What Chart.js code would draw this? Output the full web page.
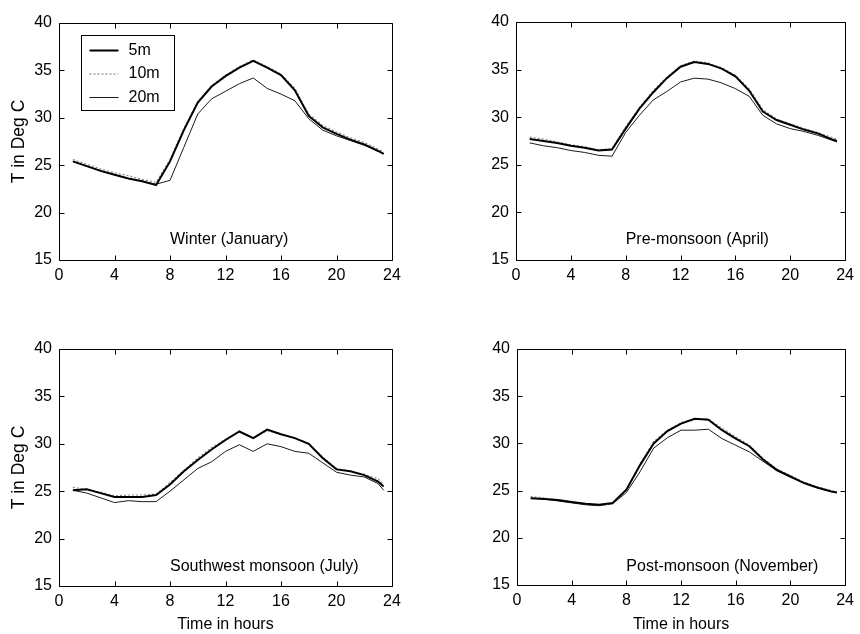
<!DOCTYPE html>
<html>
<head>
<meta charset="utf-8">
<title>Diurnal temperature</title>
<script src="https://cdn.jsdelivr.net/npm/chart.js@4.4.1/dist/chart.umd.min.js"></script>
<style>
  body { margin: 0; background: #fff; }
  #wrap { position: relative; width: 860px; height: 634px; }
  #wrap canvas { position: absolute; }
</style>
</head>
<body>
<div id="wrap">
  <canvas id="winter" width="430" height="317" style="left:0;top:0"></canvas>
  <canvas id="premonsoon" width="430" height="317" style="left:430px;top:0"></canvas>
  <canvas id="swmonsoon" width="430" height="317" style="left:0;top:317px"></canvas>
  <canvas id="postmonsoon" width="430" height="317" style="left:430px;top:317px"></canvas>
</div>
<script>
// hour of day for each reading
const hours = [1, 2, 3, 4, 5, 6, 7, 8, 9, 10, 11, 12, 13, 14, 15, 16, 17, 18, 19, 20, 21, 22, 23, 23.4];
const xTicks = [0, 4, 8, 12, 16, 20, 24];
const yTicks = [15, 20, 25, 30, 35, 40];
const levels = ['5m', '10m', '20m'];

// Winter (January)
const winter5  = [25.4, 24.9, 24.4, 24.0, 23.6, 23.3, 22.9, 25.4, 28.7, 31.6, 33.3, 34.4, 35.3, 36.0, 35.3, 34.5, 32.9, 30.2, 29.0, 28.3, 27.7, 27.2, 26.5, 26.2];
const winter10 = [25.6, 25.1, 24.6, 24.2, 23.9, 23.5, 23.2, 25.6, 28.9, 31.7, 33.4, 34.5, 35.4, 36.1, 35.4, 34.6, 33.1, 30.4, 29.2, 28.5, 27.9, 27.4, 26.7, 26.4];
const winter20 = [25.4, 24.9, 24.4, 24.0, 23.6, 23.3, 23.0, 23.4, 26.9, 30.4, 32.0, 32.8, 33.6, 34.2, 33.1, 32.5, 31.8, 29.9, 28.7, 28.1, 27.6, 27.1, 26.5, 26.2];

// Pre-monsoon (April)
const april5  = [27.7, 27.5, 27.3, 27.0, 26.8, 26.5, 26.6, 28.8, 30.9, 32.6, 34.1, 35.3, 35.8, 35.6, 35.1, 34.3, 32.8, 30.6, 29.7, 29.2, 28.7, 28.3, 27.7, 27.5];
const april10 = [27.9, 27.7, 27.4, 27.1, 26.9, 26.6, 26.7, 29.0, 31.0, 32.8, 34.2, 35.4, 35.9, 35.7, 35.2, 34.4, 33.0, 30.8, 29.8, 29.3, 28.8, 28.4, 27.9, 27.7];
const april20 = [27.3, 27.0, 26.8, 26.5, 26.3, 26.0, 25.9, 28.4, 30.2, 31.8, 32.7, 33.7, 34.1, 34.0, 33.6, 33.0, 32.2, 30.2, 29.3, 28.8, 28.5, 28.1, 27.6, 27.4];

// Southwest monsoon (July)
const july5  = [25.1, 25.2, 24.8, 24.4, 24.4, 24.4, 24.6, 25.7, 27.1, 28.3, 29.4, 30.4, 31.3, 30.6, 31.5, 31.0, 30.6, 30.0, 28.5, 27.3, 27.1, 26.7, 26.0, 25.5];
const july10 = [25.4, 25.2, 24.9, 24.5, 24.6, 24.6, 24.7, 25.9, 27.2, 28.5, 29.6, 30.5, 31.3, 30.6, 31.4, 31.0, 30.6, 30.0, 28.6, 27.4, 27.1, 26.8, 26.3, 25.7];
const july20 = [25.1, 24.8, 24.3, 23.8, 24.0, 23.9, 23.9, 25.0, 26.2, 27.4, 28.1, 29.2, 29.9, 29.2, 30.0, 29.7, 29.2, 29.0, 28.0, 27.0, 26.7, 26.5, 25.8, 25.1];

// Post-monsoon (November)
const nov5  = [24.2, 24.1, 24.0, 23.8, 23.6, 23.5, 23.7, 25.1, 27.7, 30.0, 31.3, 32.1, 32.6, 32.5, 31.4, 30.5, 29.7, 28.3, 27.2, 26.5, 25.8, 25.3, 24.9, 24.8];
const nov10 = [24.4, 24.2, 24.0, 23.8, 23.6, 23.5, 23.6, 25.0, 27.8, 30.2, 31.4, 32.2, 32.6, 32.6, 31.6, 30.7, 29.8, 28.4, 27.3, 26.6, 25.9, 25.4, 25.0, 24.8];
const nov20 = [24.2, 24.1, 23.9, 23.7, 23.5, 23.4, 23.6, 24.8, 27.0, 29.5, 30.6, 31.4, 31.4, 31.5, 30.5, 29.8, 29.1, 28.1, 27.1, 26.4, 25.8, 25.3, 24.9, 24.8];

const FONT = '"Liberation Sans", Arial, sans-serif';
const TXT = 16;

const lineStyles = [
  { borderColor: '#000', borderWidth: 2 },
  { borderColor: '#8a8a8a', borderWidth: 1.2, borderDash: [2, 2] },
  { borderColor: '#1a1a1a', borderWidth: 1 }
];

// box, inward ticks on all four sides, in-plot caption and legend
const matlabAxes = {
  id: 'matlabAxes',
  afterDatasetsDraw(chart, args, opts) {
    const { ctx, chartArea: a, scales: { x, y } } = chart;
    const L = Math.round(a.left) + 0.5, R = Math.round(a.right) + 0.5;
    const T = Math.round(a.top) + 0.5, B = Math.round(a.bottom) + 0.5;
    ctx.save();
    ctx.strokeStyle = '#000';
    ctx.lineWidth = 1;
    ctx.beginPath();
    ctx.rect(L, T, R - L, B - T);
    x.ticks.forEach(t => {
      const px = Math.round(x.getPixelForValue(t.value)) + 0.5;
      ctx.moveTo(px, B); ctx.lineTo(px, B - opts.tickLen);
      ctx.moveTo(px, T); ctx.lineTo(px, T + opts.tickLen);
    });
    y.ticks.forEach(t => {
      const py = Math.round(y.getPixelForValue(t.value)) + 0.5;
      ctx.moveTo(L, py); ctx.lineTo(L + opts.tickLen, py);
      ctx.moveTo(R, py); ctx.lineTo(R - opts.tickLen, py);
    });
    ctx.stroke();

    ctx.fillStyle = '#000';
    ctx.font = TXT + 'px ' + FONT;
    if (opts.note) {
      ctx.textAlign = 'left';
      ctx.textBaseline = 'middle';
      ctx.fillText(opts.note.text, x.getPixelForValue(opts.note.x), y.getPixelForValue(opts.note.y));
    }

    if (opts.legend) {
      const lg = opts.legend;
      const bx = Math.round(a.left + lg.dx) + 0.5, by = Math.round(a.top + lg.dy) + 0.5;
      ctx.fillStyle = '#fff';
      ctx.fillRect(bx, by, lg.w, lg.h);
      ctx.strokeStyle = '#000';
      ctx.setLineDash([]);
      ctx.lineWidth = 1;
      ctx.strokeRect(bx, by, lg.w, lg.h);
      chart.data.datasets.forEach((ds, i) => {
        const ry = by + lg.firstRow + i * lg.rowGap;
        ctx.beginPath();
        ctx.strokeStyle = ds.borderColor;
        ctx.lineWidth = ds.borderWidth;
        ctx.setLineDash(ds.borderDash || []);
        ctx.moveTo(bx + 8, ry);
        ctx.lineTo(bx + 37, ry);
        ctx.stroke();
        ctx.setLineDash([]);
        ctx.fillStyle = '#000';
        ctx.textAlign = 'left';
        ctx.textBaseline = 'middle';
        ctx.fillText(ds.label, bx + 47, ry);
      });
    }
    ctx.restore();
  }
};

function makePanel(id, series, area, note, opts) {
  const W = 430, H = 317;
  const datasets = series.map((vals, i) => Object.assign({
    label: levels[i],
    data: hours.map((h, k) => ({ x: h, y: vals[k] })),
    pointRadius: 0,
    tension: 0,
    fill: false
  }, lineStyles[i]));

  new Chart(document.getElementById(id), {
    type: 'line',
    data: { datasets },
    plugins: [matlabAxes],
    options: {
      responsive: false,
      animation: false,
      events: [],
      layout: { padding: { left: 0, top: area.t, right: W - area.r, bottom: 0 } },
      plugins: {
        legend: { display: false },
        tooltip: { enabled: false },
        matlabAxes: { tickLen: 5, note: note, legend: opts.legend || null }
      },
      scales: {
        x: {
          type: 'linear',
          min: 0, max: 24,
          afterBuildTicks: s => { s.ticks = xTicks.map(v => ({ value: v })); },
          afterFit: s => { s.height = H - area.b; },
          grid: { display: false, drawTicks: false },
          border: { display: false },
          ticks: { color: '#000', padding: 6, maxRotation: 0, autoSkip: false, font: { family: FONT, size: TXT } },
          title: {
            display: !!opts.xTitle,
            text: 'Time in hours',
            color: '#000',
            font: { family: FONT, size: TXT, lineHeight: 1 },
            padding: { top: 0, bottom: 1 }
          }
        },
        y: {
          type: 'linear',
          min: 15, max: 40,
          afterBuildTicks: s => { s.ticks = yTicks.map(v => ({ value: v })); },
          afterFit: s => { s.width = area.l; },
          grid: { display: false, drawTicks: false },
          border: { display: false },
          ticks: { color: '#000', padding: 7, font: { family: FONT, size: TXT } },
          title: {
            display: !!opts.yTitle,
            text: 'T in Deg C',
            color: '#000',
            font: { family: FONT, size: 17.5, lineHeight: 1 },
            padding: { top: 10, bottom: 0 }
          }
        }
      }
    }
  });
}

makePanel('winter', [winter5, winter10, winter20],
  { l: 59, r: 392, t: 23, b: 260 },
  { text: 'Winter (January)', x: 8, y: 17.1 },
  { yTitle: true, legend: { dx: 22, dy: 12, w: 93, h: 75, firstRow: 15, rowGap: 23.5 } });

makePanel('premonsoon', [april5, april10, april20],
  { l: 86, r: 421, t: 22, b: 260 },
  { text: 'Pre-monsoon (April)', x: 8, y: 17.1 },
  {});

makePanel('swmonsoon', [july5, july10, july20],
  { l: 59, r: 392, t: 32, b: 269 },
  { text: 'Southwest monsoon (July)', x: 8, y: 17.0 },
  { yTitle: true, xTitle: true });

makePanel('postmonsoon', [nov5, nov10, nov20],
  { l: 87, r: 423, t: 32, b: 268 },
  { text: 'Post-monsoon (November)', x: 8, y: 17.0 },
  { xTitle: true });
</script>
</body>
</html>
